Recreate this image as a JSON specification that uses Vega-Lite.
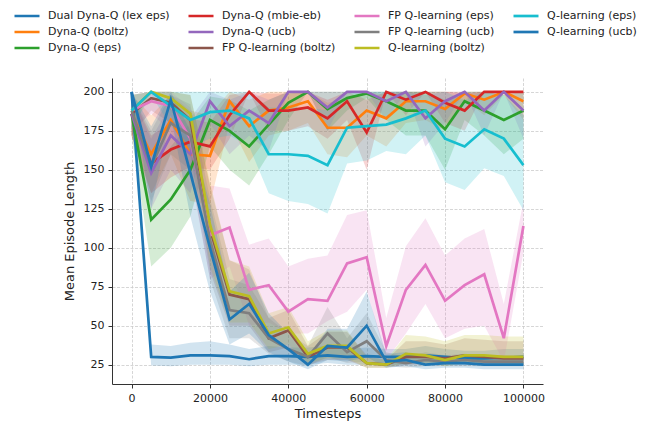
{
  "$schema": "https://vega.github.io/schema/vega-lite/v6.json",
  "autosize": {"type": "none"},
  "padding": {"left": 112, "top": 78, "right": 109, "bottom": 38},
  "width": 431,
  "height": 306,
  "background": "white",
  "datasets": {
    "runs": [
      {"s":"Dual Dyna-Q (lex eps)","t":0,"m":200,"lo":200,"hi":200},
      {"s":"Dual Dyna-Q (lex eps)","t":5000,"m":30,"lo":24.5,"hi":38},
      {"s":"Dual Dyna-Q (lex eps)","t":10000,"m":29.5,"lo":24,"hi":37},
      {"s":"Dual Dyna-Q (lex eps)","t":15000,"m":31,"lo":25,"hi":39},
      {"s":"Dual Dyna-Q (lex eps)","t":20000,"m":31,"lo":25,"hi":40},
      {"s":"Dual Dyna-Q (lex eps)","t":25000,"m":30.5,"lo":25,"hi":38},
      {"s":"Dual Dyna-Q (lex eps)","t":30000,"m":28.5,"lo":24,"hi":35},
      {"s":"Dual Dyna-Q (lex eps)","t":35000,"m":30.5,"lo":25,"hi":37},
      {"s":"Dual Dyna-Q (lex eps)","t":40000,"m":30.5,"lo":25,"hi":36},
      {"s":"Dual Dyna-Q (lex eps)","t":45000,"m":30,"lo":25,"hi":36},
      {"s":"Dual Dyna-Q (lex eps)","t":50000,"m":31,"lo":26,"hi":37},
      {"s":"Dual Dyna-Q (lex eps)","t":55000,"m":30,"lo":25,"hi":35},
      {"s":"Dual Dyna-Q (lex eps)","t":60000,"m":30.5,"lo":25,"hi":36},
      {"s":"Dual Dyna-Q (lex eps)","t":65000,"m":30,"lo":25,"hi":35},
      {"s":"Dual Dyna-Q (lex eps)","t":70000,"m":30,"lo":25,"hi":35},
      {"s":"Dual Dyna-Q (lex eps)","t":75000,"m":31,"lo":26,"hi":37},
      {"s":"Dual Dyna-Q (lex eps)","t":80000,"m":30,"lo":25,"hi":35},
      {"s":"Dual Dyna-Q (lex eps)","t":85000,"m":29,"lo":25,"hi":34},
      {"s":"Dual Dyna-Q (lex eps)","t":90000,"m":29,"lo":25,"hi":34},
      {"s":"Dual Dyna-Q (lex eps)","t":95000,"m":29.5,"lo":25,"hi":35},
      {"s":"Dual Dyna-Q (lex eps)","t":100000,"m":30,"lo":25,"hi":35},

      {"s":"Dyna-Q (boltz)","t":0,"m":186,"lo":172,"hi":198},
      {"s":"Dyna-Q (boltz)","t":5000,"m":160,"lo":135,"hi":185},
      {"s":"Dyna-Q (boltz)","t":10000,"m":182,"lo":160,"hi":198},
      {"s":"Dyna-Q (boltz)","t":15000,"m":160,"lo":130,"hi":188},
      {"s":"Dyna-Q (boltz)","t":20000,"m":159,"lo":128,"hi":185},
      {"s":"Dyna-Q (boltz)","t":25000,"m":194,"lo":180,"hi":200},
      {"s":"Dyna-Q (boltz)","t":30000,"m":178,"lo":155,"hi":195},
      {"s":"Dyna-Q (boltz)","t":35000,"m":188,"lo":172,"hi":200},
      {"s":"Dyna-Q (boltz)","t":40000,"m":190,"lo":175,"hi":200},
      {"s":"Dyna-Q (boltz)","t":45000,"m":194,"lo":180,"hi":200},
      {"s":"Dyna-Q (boltz)","t":50000,"m":177,"lo":160,"hi":193},
      {"s":"Dyna-Q (boltz)","t":55000,"m":177,"lo":158,"hi":195},
      {"s":"Dyna-Q (boltz)","t":60000,"m":188,"lo":172,"hi":200},
      {"s":"Dyna-Q (boltz)","t":65000,"m":183,"lo":165,"hi":198},
      {"s":"Dyna-Q (boltz)","t":70000,"m":194,"lo":180,"hi":200},
      {"s":"Dyna-Q (boltz)","t":75000,"m":194,"lo":182,"hi":200},
      {"s":"Dyna-Q (boltz)","t":80000,"m":189,"lo":175,"hi":200},
      {"s":"Dyna-Q (boltz)","t":85000,"m":199,"lo":195,"hi":200},
      {"s":"Dyna-Q (boltz)","t":90000,"m":195,"lo":185,"hi":200},
      {"s":"Dyna-Q (boltz)","t":95000,"m":200,"lo":198,"hi":200},
      {"s":"Dyna-Q (boltz)","t":100000,"m":194,"lo":182,"hi":200},

      {"s":"Dyna-Q (eps)","t":0,"m":186,"lo":172,"hi":198},
      {"s":"Dyna-Q (eps)","t":5000,"m":118,"lo":88,"hi":150},
      {"s":"Dyna-Q (eps)","t":10000,"m":131,"lo":100,"hi":165},
      {"s":"Dyna-Q (eps)","t":15000,"m":150,"lo":120,"hi":180},
      {"s":"Dyna-Q (eps)","t":20000,"m":182,"lo":165,"hi":197},
      {"s":"Dyna-Q (eps)","t":25000,"m":175,"lo":150,"hi":195},
      {"s":"Dyna-Q (eps)","t":30000,"m":165,"lo":140,"hi":188},
      {"s":"Dyna-Q (eps)","t":35000,"m":179,"lo":160,"hi":195},
      {"s":"Dyna-Q (eps)","t":40000,"m":193,"lo":182,"hi":200},
      {"s":"Dyna-Q (eps)","t":45000,"m":200,"lo":200,"hi":200},
      {"s":"Dyna-Q (eps)","t":50000,"m":189,"lo":175,"hi":200},
      {"s":"Dyna-Q (eps)","t":55000,"m":196,"lo":188,"hi":200},
      {"s":"Dyna-Q (eps)","t":60000,"m":199,"lo":196,"hi":200},
      {"s":"Dyna-Q (eps)","t":65000,"m":194,"lo":182,"hi":200},
      {"s":"Dyna-Q (eps)","t":70000,"m":188,"lo":172,"hi":200},
      {"s":"Dyna-Q (eps)","t":75000,"m":188,"lo":172,"hi":200},
      {"s":"Dyna-Q (eps)","t":80000,"m":176,"lo":150,"hi":195},
      {"s":"Dyna-Q (eps)","t":85000,"m":194,"lo":182,"hi":200},
      {"s":"Dyna-Q (eps)","t":90000,"m":188,"lo":172,"hi":200},
      {"s":"Dyna-Q (eps)","t":95000,"m":182,"lo":160,"hi":198},
      {"s":"Dyna-Q (eps)","t":100000,"m":188,"lo":170,"hi":200},

      {"s":"Dyna-Q (mbie-eb)","t":0,"m":186,"lo":172,"hi":198},
      {"s":"Dyna-Q (mbie-eb)","t":5000,"m":154,"lo":135,"hi":172},
      {"s":"Dyna-Q (mbie-eb)","t":10000,"m":163,"lo":145,"hi":180},
      {"s":"Dyna-Q (mbie-eb)","t":15000,"m":168,"lo":152,"hi":183},
      {"s":"Dyna-Q (mbie-eb)","t":20000,"m":165,"lo":150,"hi":180},
      {"s":"Dyna-Q (mbie-eb)","t":25000,"m":185,"lo":170,"hi":198},
      {"s":"Dyna-Q (mbie-eb)","t":30000,"m":200,"lo":200,"hi":200},
      {"s":"Dyna-Q (mbie-eb)","t":35000,"m":188,"lo":175,"hi":199},
      {"s":"Dyna-Q (mbie-eb)","t":40000,"m":188,"lo":175,"hi":199},
      {"s":"Dyna-Q (mbie-eb)","t":45000,"m":190,"lo":178,"hi":200},
      {"s":"Dyna-Q (mbie-eb)","t":50000,"m":183,"lo":170,"hi":195},
      {"s":"Dyna-Q (mbie-eb)","t":55000,"m":194,"lo":182,"hi":200},
      {"s":"Dyna-Q (mbie-eb)","t":60000,"m":174,"lo":150,"hi":195},
      {"s":"Dyna-Q (mbie-eb)","t":65000,"m":200,"lo":200,"hi":200},
      {"s":"Dyna-Q (mbie-eb)","t":70000,"m":195,"lo":185,"hi":200},
      {"s":"Dyna-Q (mbie-eb)","t":75000,"m":200,"lo":200,"hi":200},
      {"s":"Dyna-Q (mbie-eb)","t":80000,"m":193,"lo":180,"hi":200},
      {"s":"Dyna-Q (mbie-eb)","t":85000,"m":188,"lo":175,"hi":199},
      {"s":"Dyna-Q (mbie-eb)","t":90000,"m":200,"lo":200,"hi":200},
      {"s":"Dyna-Q (mbie-eb)","t":95000,"m":200,"lo":200,"hi":200},
      {"s":"Dyna-Q (mbie-eb)","t":100000,"m":200,"lo":200,"hi":200},

      {"s":"Dyna-Q (ucb)","t":0,"m":186,"lo":172,"hi":198},
      {"s":"Dyna-Q (ucb)","t":5000,"m":148,"lo":125,"hi":170},
      {"s":"Dyna-Q (ucb)","t":10000,"m":172,"lo":150,"hi":192},
      {"s":"Dyna-Q (ucb)","t":15000,"m":160,"lo":135,"hi":183},
      {"s":"Dyna-Q (ucb)","t":20000,"m":194,"lo":180,"hi":200},
      {"s":"Dyna-Q (ucb)","t":25000,"m":178,"lo":160,"hi":195},
      {"s":"Dyna-Q (ucb)","t":30000,"m":188,"lo":172,"hi":200},
      {"s":"Dyna-Q (ucb)","t":35000,"m":180,"lo":162,"hi":195},
      {"s":"Dyna-Q (ucb)","t":40000,"m":200,"lo":200,"hi":200},
      {"s":"Dyna-Q (ucb)","t":45000,"m":200,"lo":200,"hi":200},
      {"s":"Dyna-Q (ucb)","t":50000,"m":190,"lo":175,"hi":200},
      {"s":"Dyna-Q (ucb)","t":55000,"m":200,"lo":200,"hi":200},
      {"s":"Dyna-Q (ucb)","t":60000,"m":200,"lo":200,"hi":200},
      {"s":"Dyna-Q (ucb)","t":65000,"m":194,"lo":182,"hi":200},
      {"s":"Dyna-Q (ucb)","t":70000,"m":200,"lo":200,"hi":200},
      {"s":"Dyna-Q (ucb)","t":75000,"m":183,"lo":165,"hi":198},
      {"s":"Dyna-Q (ucb)","t":80000,"m":194,"lo":180,"hi":200},
      {"s":"Dyna-Q (ucb)","t":85000,"m":200,"lo":200,"hi":200},
      {"s":"Dyna-Q (ucb)","t":90000,"m":188,"lo":172,"hi":200},
      {"s":"Dyna-Q (ucb)","t":95000,"m":200,"lo":200,"hi":200},
      {"s":"Dyna-Q (ucb)","t":100000,"m":188,"lo":170,"hi":200},

      {"s":"FP Q-learning (boltz)","t":0,"m":186,"lo":172,"hi":198},
      {"s":"FP Q-learning (boltz)","t":5000,"m":196,"lo":188,"hi":200},
      {"s":"FP Q-learning (boltz)","t":10000,"m":193,"lo":180,"hi":200},
      {"s":"FP Q-learning (boltz)","t":15000,"m":182,"lo":160,"hi":198},
      {"s":"FP Q-learning (boltz)","t":20000,"m":112,"lo":85,"hi":140},
      {"s":"FP Q-learning (boltz)","t":25000,"m":70,"lo":50,"hi":92},
      {"s":"FP Q-learning (boltz)","t":30000,"m":67,"lo":50,"hi":86},
      {"s":"FP Q-learning (boltz)","t":35000,"m":42,"lo":33,"hi":55},
      {"s":"FP Q-learning (boltz)","t":40000,"m":47,"lo":36,"hi":60},
      {"s":"FP Q-learning (boltz)","t":45000,"m":30,"lo":25,"hi":37},
      {"s":"FP Q-learning (boltz)","t":50000,"m":36,"lo":28,"hi":46},
      {"s":"FP Q-learning (boltz)","t":55000,"m":36,"lo":28,"hi":46},
      {"s":"FP Q-learning (boltz)","t":60000,"m":26,"lo":23,"hi":31},
      {"s":"FP Q-learning (boltz)","t":65000,"m":25,"lo":23,"hi":28},
      {"s":"FP Q-learning (boltz)","t":70000,"m":30,"lo":25,"hi":40},
      {"s":"FP Q-learning (boltz)","t":75000,"m":30,"lo":25,"hi":40},
      {"s":"FP Q-learning (boltz)","t":80000,"m":29,"lo":25,"hi":38},
      {"s":"FP Q-learning (boltz)","t":85000,"m":31,"lo":26,"hi":42},
      {"s":"FP Q-learning (boltz)","t":90000,"m":30,"lo":25,"hi":41},
      {"s":"FP Q-learning (boltz)","t":95000,"m":29,"lo":25,"hi":40},
      {"s":"FP Q-learning (boltz)","t":100000,"m":29,"lo":25,"hi":40},

      {"s":"FP Q-learning (eps)","t":0,"m":188,"lo":176,"hi":198},
      {"s":"FP Q-learning (eps)","t":5000,"m":194,"lo":186,"hi":200},
      {"s":"FP Q-learning (eps)","t":10000,"m":191,"lo":175,"hi":200},
      {"s":"FP Q-learning (eps)","t":15000,"m":170,"lo":148,"hi":190},
      {"s":"FP Q-learning (eps)","t":20000,"m":108,"lo":80,"hi":140},
      {"s":"FP Q-learning (eps)","t":25000,"m":113,"lo":88,"hi":138},
      {"s":"FP Q-learning (eps)","t":30000,"m":73,"lo":50,"hi":102},
      {"s":"FP Q-learning (eps)","t":35000,"m":76,"lo":52,"hi":106},
      {"s":"FP Q-learning (eps)","t":40000,"m":59,"lo":45,"hi":88},
      {"s":"FP Q-learning (eps)","t":45000,"m":67,"lo":45,"hi":93},
      {"s":"FP Q-learning (eps)","t":50000,"m":66,"lo":53,"hi":95},
      {"s":"FP Q-learning (eps)","t":55000,"m":90,"lo":59,"hi":121},
      {"s":"FP Q-learning (eps)","t":60000,"m":94,"lo":73,"hi":124},
      {"s":"FP Q-learning (eps)","t":65000,"m":37,"lo":28,"hi":55},
      {"s":"FP Q-learning (eps)","t":70000,"m":73,"lo":45,"hi":101},
      {"s":"FP Q-learning (eps)","t":75000,"m":89,"lo":64,"hi":119},
      {"s":"FP Q-learning (eps)","t":80000,"m":66,"lo":42,"hi":95},
      {"s":"FP Q-learning (eps)","t":85000,"m":76,"lo":48,"hi":106},
      {"s":"FP Q-learning (eps)","t":90000,"m":83,"lo":50,"hi":112},
      {"s":"FP Q-learning (eps)","t":95000,"m":42,"lo":27,"hi":64},
      {"s":"FP Q-learning (eps)","t":100000,"m":114,"lo":97,"hi":130},

      {"s":"FP Q-learning (ucb)","t":0,"m":188,"lo":176,"hi":198},
      {"s":"FP Q-learning (ucb)","t":5000,"m":152,"lo":130,"hi":175},
      {"s":"FP Q-learning (ucb)","t":10000,"m":180,"lo":160,"hi":198},
      {"s":"FP Q-learning (ucb)","t":15000,"m":172,"lo":150,"hi":192},
      {"s":"FP Q-learning (ucb)","t":20000,"m":105,"lo":80,"hi":132},
      {"s":"FP Q-learning (ucb)","t":25000,"m":60,"lo":42,"hi":80},
      {"s":"FP Q-learning (ucb)","t":30000,"m":58,"lo":42,"hi":76},
      {"s":"FP Q-learning (ucb)","t":35000,"m":42,"lo":32,"hi":55},
      {"s":"FP Q-learning (ucb)","t":40000,"m":35,"lo":27,"hi":45},
      {"s":"FP Q-learning (ucb)","t":45000,"m":30,"lo":24,"hi":37},
      {"s":"FP Q-learning (ucb)","t":50000,"m":45,"lo":30,"hi":62},
      {"s":"FP Q-learning (ucb)","t":55000,"m":33,"lo":26,"hi":42},
      {"s":"FP Q-learning (ucb)","t":60000,"m":40,"lo":27,"hi":58},
      {"s":"FP Q-learning (ucb)","t":65000,"m":28,"lo":24,"hi":33},
      {"s":"FP Q-learning (ucb)","t":70000,"m":26,"lo":23,"hi":30},
      {"s":"FP Q-learning (ucb)","t":75000,"m":28,"lo":24,"hi":33},
      {"s":"FP Q-learning (ucb)","t":80000,"m":27,"lo":24,"hi":31},
      {"s":"FP Q-learning (ucb)","t":85000,"m":28,"lo":24,"hi":32},
      {"s":"FP Q-learning (ucb)","t":90000,"m":27,"lo":24,"hi":31},
      {"s":"FP Q-learning (ucb)","t":95000,"m":27,"lo":24,"hi":31},
      {"s":"FP Q-learning (ucb)","t":100000,"m":27,"lo":24,"hi":31},

      {"s":"Q-learning (boltz)","t":0,"m":188,"lo":176,"hi":198},
      {"s":"Q-learning (boltz)","t":5000,"m":200,"lo":200,"hi":200},
      {"s":"Q-learning (boltz)","t":10000,"m":196,"lo":188,"hi":200},
      {"s":"Q-learning (boltz)","t":15000,"m":186,"lo":170,"hi":198},
      {"s":"Q-learning (boltz)","t":20000,"m":115,"lo":88,"hi":142},
      {"s":"Q-learning (boltz)","t":25000,"m":72,"lo":52,"hi":92},
      {"s":"Q-learning (boltz)","t":30000,"m":69,"lo":52,"hi":88},
      {"s":"Q-learning (boltz)","t":35000,"m":45,"lo":35,"hi":58},
      {"s":"Q-learning (boltz)","t":40000,"m":49,"lo":38,"hi":62},
      {"s":"Q-learning (boltz)","t":45000,"m":32,"lo":26,"hi":40},
      {"s":"Q-learning (boltz)","t":50000,"m":37,"lo":29,"hi":47},
      {"s":"Q-learning (boltz)","t":55000,"m":37,"lo":29,"hi":47},
      {"s":"Q-learning (boltz)","t":60000,"m":26,"lo":23,"hi":30},
      {"s":"Q-learning (boltz)","t":65000,"m":25,"lo":23,"hi":28},
      {"s":"Q-learning (boltz)","t":70000,"m":32,"lo":26,"hi":44},
      {"s":"Q-learning (boltz)","t":75000,"m":31,"lo":26,"hi":43},
      {"s":"Q-learning (boltz)","t":80000,"m":28,"lo":24,"hi":40},
      {"s":"Q-learning (boltz)","t":85000,"m":31,"lo":26,"hi":44},
      {"s":"Q-learning (boltz)","t":90000,"m":31,"lo":26,"hi":44},
      {"s":"Q-learning (boltz)","t":95000,"m":30,"lo":25,"hi":43},
      {"s":"Q-learning (boltz)","t":100000,"m":30,"lo":25,"hi":43},

      {"s":"Q-learning (eps)","t":0,"m":188,"lo":176,"hi":198},
      {"s":"Q-learning (eps)","t":5000,"m":200,"lo":198,"hi":200},
      {"s":"Q-learning (eps)","t":10000,"m":191,"lo":178,"hi":200},
      {"s":"Q-learning (eps)","t":15000,"m":182,"lo":165,"hi":200},
      {"s":"Q-learning (eps)","t":20000,"m":187,"lo":170,"hi":200},
      {"s":"Q-learning (eps)","t":25000,"m":188,"lo":172,"hi":200},
      {"s":"Q-learning (eps)","t":30000,"m":183,"lo":165,"hi":200},
      {"s":"Q-learning (eps)","t":35000,"m":160,"lo":135,"hi":190},
      {"s":"Q-learning (eps)","t":40000,"m":160,"lo":130,"hi":190},
      {"s":"Q-learning (eps)","t":45000,"m":159,"lo":128,"hi":190},
      {"s":"Q-learning (eps)","t":50000,"m":153,"lo":122,"hi":188},
      {"s":"Q-learning (eps)","t":55000,"m":177,"lo":154,"hi":200},
      {"s":"Q-learning (eps)","t":60000,"m":178,"lo":156,"hi":200},
      {"s":"Q-learning (eps)","t":65000,"m":179,"lo":162,"hi":200},
      {"s":"Q-learning (eps)","t":70000,"m":183,"lo":160,"hi":200},
      {"s":"Q-learning (eps)","t":75000,"m":188,"lo":172,"hi":200},
      {"s":"Q-learning (eps)","t":80000,"m":170,"lo":142,"hi":200},
      {"s":"Q-learning (eps)","t":85000,"m":165,"lo":137,"hi":195},
      {"s":"Q-learning (eps)","t":90000,"m":176,"lo":151,"hi":200},
      {"s":"Q-learning (eps)","t":95000,"m":170,"lo":146,"hi":198},
      {"s":"Q-learning (eps)","t":100000,"m":153,"lo":124,"hi":185},

      {"s":"Q-learning (ucb)","t":0,"m":200,"lo":200,"hi":200},
      {"s":"Q-learning (ucb)","t":5000,"m":152,"lo":125,"hi":178},
      {"s":"Q-learning (ucb)","t":10000,"m":195,"lo":185,"hi":200},
      {"s":"Q-learning (ucb)","t":15000,"m":148,"lo":120,"hi":175},
      {"s":"Q-learning (ucb)","t":20000,"m":100,"lo":72,"hi":128},
      {"s":"Q-learning (ucb)","t":25000,"m":54,"lo":38,"hi":72},
      {"s":"Q-learning (ucb)","t":30000,"m":64,"lo":45,"hi":84},
      {"s":"Q-learning (ucb)","t":35000,"m":44,"lo":33,"hi":58},
      {"s":"Q-learning (ucb)","t":40000,"m":35,"lo":27,"hi":45},
      {"s":"Q-learning (ucb)","t":45000,"m":25,"lo":22,"hi":30},
      {"s":"Q-learning (ucb)","t":50000,"m":37,"lo":28,"hi":48},
      {"s":"Q-learning (ucb)","t":55000,"m":36,"lo":27,"hi":48},
      {"s":"Q-learning (ucb)","t":60000,"m":50,"lo":30,"hi":72},
      {"s":"Q-learning (ucb)","t":65000,"m":27,"lo":23,"hi":32},
      {"s":"Q-learning (ucb)","t":70000,"m":28,"lo":24,"hi":33},
      {"s":"Q-learning (ucb)","t":75000,"m":25,"lo":22,"hi":29},
      {"s":"Q-learning (ucb)","t":80000,"m":26,"lo":23,"hi":30},
      {"s":"Q-learning (ucb)","t":85000,"m":26,"lo":23,"hi":30},
      {"s":"Q-learning (ucb)","t":90000,"m":25,"lo":22,"hi":29},
      {"s":"Q-learning (ucb)","t":95000,"m":25,"lo":22,"hi":29},
      {"s":"Q-learning (ucb)","t":100000,"m":25,"lo":22,"hi":29}
    ]
  },
  "data": {"name": "runs"},
  "encoding": {
    "x": {
      "field": "t", "type": "quantitative",
      "scale": {"domain": [-5000, 105000], "nice": false, "zero": false},
      "axis": {"title": "Timesteps", "values": [0, 20000, 40000, 60000, 80000, 100000], "format": "d"}
    },
    "color": {
      "field": "s", "type": "nominal",
      "scale": {
        "domain": [
          "Dual Dyna-Q (lex eps)", "Dyna-Q (boltz)", "Dyna-Q (eps)", "Dyna-Q (mbie-eb)",
          "Dyna-Q (ucb)", "FP Q-learning (boltz)", "FP Q-learning (eps)", "FP Q-learning (ucb)",
          "Q-learning (boltz)", "Q-learning (eps)", "Q-learning (ucb)"
        ],
        "range": [
          "#1f77b4", "#ff7f0e", "#2ca02c", "#d62728",
          "#9467bd", "#8c564b", "#e377c2", "#7f7f7f",
          "#bcbd22", "#17becf", "#1f77b4"
        ]
      },
      "legend": {
        "orient": "none", "legendX": -99, "legendY": -70,
        "columns": 4, "title": null
      }
    }
  },
  "layer": [
    {
      "mark": {"type": "area", "opacity": 0.2},
      "encoding": {
        "y": {
          "field": "lo", "type": "quantitative",
          "scale": {"domain": [12.6, 208.9], "nice": false, "zero": false},
          "axis": {"title": "Mean Episode Length", "values": [25, 50, 75, 100, 125, 150, 175, 200]}
        },
        "y2": {"field": "hi"}
      }
    },
    {
      "mark": {"type": "line", "strokeWidth": 2.7},
      "encoding": {
        "y": {"field": "m", "type": "quantitative"}
      }
    }
  ],
  "config": {
    "font": "DejaVu Sans",
    "view": {"stroke": null},
    "axis": {
      "domainColor": "#333333",
      "domainWidth": 1,
      "tickColor": "#333333",
      "tickSize": 4,
      "tickWidth": 1,
      "labelFont": "DejaVu Sans",
      "labelFontSize": 11,
      "labelColor": "#222222",
      "labelPadding": 4,
      "titleFont": "DejaVu Sans",
      "titleFontSize": 13,
      "titleFontWeight": "normal",
      "titleColor": "#222222",
      "grid": true,
      "gridColor": "#cccccc",
      "gridDash": [3, 1.5],
      "gridWidth": 0.8
    },
    "axisY": {"titlePadding": 7},
    "axisX": {"titlePadding": 4},
    "legend": {
      "symbolType": "stroke",
      "symbolSize": 625,
      "symbolStrokeWidth": 2.7,
      "symbolOpacity": 1,
      "labelFont": "DejaVu Sans",
      "labelFontSize": 11,
      "labelColor": "#222222",
      "labelOffset": 7,
      "columnPadding": 17,
      "rowPadding": 0,
      "clipHeight": 16,
      "padding": 0
    }
  }
}
